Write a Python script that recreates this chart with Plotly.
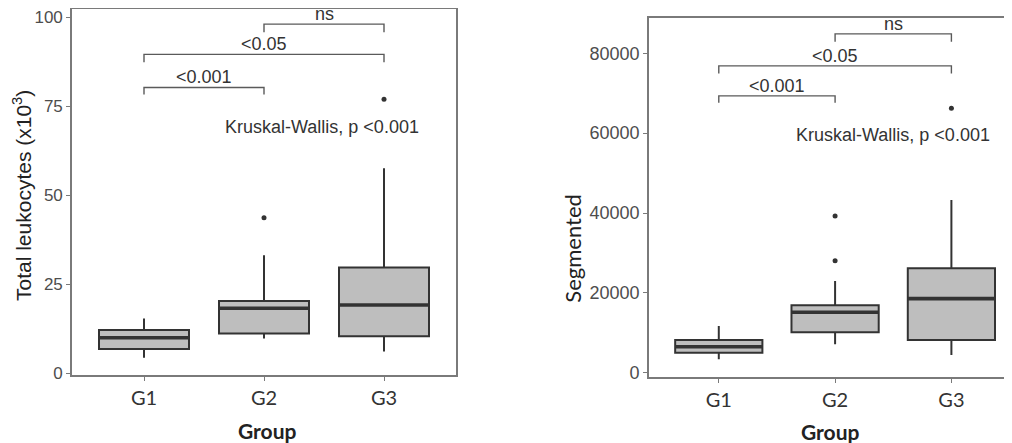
import plotly.graph_objects as go

groups = ["G1", "G2", "G3"]
group_pos = [1, 2, 3]

# Left panel: Total leukocytes (x10^3)
leu_lower = [4.4, 9.8, 6.1]
leu_q1 = [6.8, 11.2, 10.4]
leu_median = [10.0, 18.3, 19.2]
leu_q3 = [12.2, 20.3, 29.7]
leu_upper = [15.4, 33.2, 57.6]
leu_out_x = [2, 3]
leu_out_y = [43.7, 77.0]
leu_brackets = [  # (from, to, level, drop, label)
    (1, 2, 80.3, 2.0, "<0.001"),
    (1, 3, 89.6, 2.2, "<0.05"),
    (2, 3, 98.1, 2.3, "ns"),
]
leu_kw = (2.48, 69.3)

# Right panel: Segmented
seg_lower = [3350, 7100, 4440]
seg_q1 = [5010, 10120, 8200]
seg_median = [6520, 15140, 18550]
seg_q3 = [8200, 16890, 26160]
seg_upper = [11700, 22980, 43280]
seg_out_x = [2, 2, 3]
seg_out_y = [28070, 39270, 66260]
seg_brackets = [
    (1, 2, 69340, 1700, "<0.001"),
    (1, 3, 76860, 1900, "<0.05"),
    (2, 3, 84880, 2000, "ns"),
]
seg_kw = (2.50, 59570)

kw_text = "Kruskal-Wallis, p <0.001"
box_width = 0.75

LINE = "#333333"
FILL = "#bebebe"
FRAME = "#7a7a7a"

# The page body has an 8px margin, so the figure is sized to the visible area
W, H = 1004, 435

fig = go.Figure()


def add_panel(xa, ya, lower, q1, med, q3, upper, ox, oy, brackets, kw):
    xr = "x" if xa == 1 else f"x{xa}"
    yr = "y" if ya == 1 else f"y{ya}"
    fig.add_trace(go.Box(
        x=group_pos, q1=q1, median=med, q3=q3,
        lowerfence=lower, upperfence=upper,
        width=box_width, whiskerwidth=0, boxpoints=False,
        fillcolor=FILL, line=dict(color=LINE, width=2),
        xaxis=xr, yaxis=yr, showlegend=False, hoverinfo="skip",
    ))
    # thicker median bars
    for gx, m in zip(group_pos, med):
        fig.add_trace(go.Scatter(
            x=[gx - box_width / 2, gx + box_width / 2], y=[m, m],
            mode="lines", line=dict(color=LINE, width=3.6),
            xaxis=xr, yaxis=yr, showlegend=False, hoverinfo="skip",
        ))
    fig.add_trace(go.Scatter(
        x=ox, y=oy, mode="markers",
        marker=dict(color=LINE, size=5),
        xaxis=xr, yaxis=yr, showlegend=False, hoverinfo="skip",
    ))
    for a, b, lvl, drop, lab in brackets:
        fig.add_trace(go.Scatter(
            x=[a, a, b, b], y=[lvl - drop, lvl, lvl, lvl - drop],
            mode="lines", line=dict(color="#5a5a5a", width=1.4),
            xaxis=xr, yaxis=yr, showlegend=False, hoverinfo="skip",
        ))
        fig.add_annotation(
            x=(a + b) / 2, y=lvl, xref=xr, yref=yr, text=lab,
            showarrow=False, yanchor="middle", yshift=10,
            font=dict(family="Liberation Sans, Arial", size=18, color="#333333"),
        )
    fig.add_annotation(
        x=kw[0], y=kw[1], xref=xr, yref=yr, text=kw_text,
        showarrow=False, xanchor="center", yanchor="middle",
        font=dict(family="Liberation Sans, Arial", size=18, color="#333333"),
    )


add_panel(1, 1, leu_lower, leu_q1, leu_median, leu_q3, leu_upper,
          leu_out_x, leu_out_y, leu_brackets, leu_kw)
add_panel(2, 2, seg_lower, seg_q1, seg_median, seg_q3, seg_upper,
          seg_out_x, seg_out_y, seg_brackets, seg_kw)

xcommon = dict(
    tickmode="array", tickvals=group_pos, ticktext=groups,
    showgrid=False, zeroline=False, showline=True, linecolor=FRAME, linewidth=1.6,
    ticks="outside", ticklen=4, tickcolor=FRAME, automargin=False,
    tickfont=dict(family="Lato", size=20, color="#333333"),
    ticklabelstandoff=0,
)
ycommon = dict(
    showgrid=False, zeroline=False, showline=True, linecolor=FRAME, linewidth=1.6,
    ticks="outside", ticklen=4, tickcolor=FRAME, automargin=False,
)

fig.update_layout(
    width=W, height=H,
    margin=dict(l=0, r=0, t=0, b=0, autoexpand=False),
    paper_bgcolor="white", plot_bgcolor="white",
    xaxis=dict(domain=[64 / W, 448 / W], range=[0.4, 3.6], mirror=True,
               anchor="y", **xcommon),
    yaxis=dict(domain=[1 - 367 / H, 1 - 1 / H], range=[-0.47, 102.34],
               anchor="x", mirror=True, tickvals=[0, 25, 50, 75, 100],
               tickfont=dict(family="Liberation Sans, Arial", size=17, color="#4d4d4d"),
               **ycommon),
    xaxis2=dict(domain=[641 / W, 1.0], range=[0.4, 3.521], mirror=True,
                anchor="y2", **xcommon),
    yaxis2=dict(domain=[1 - 368.7 / H, 1 - 10.3 / H], range=[-1000, 88770],
                anchor="x2", mirror=False, tickvals=[0, 20000, 40000, 60000, 80000],
                tickformat="d",
                tickfont=dict(family="Liberation Sans, Arial", size=18, color="#4d4d4d"),
                **ycommon),
)

title_font = dict(family="Liberation Sans, Arial", size=21, color="#222222")
fig.add_annotation(x=14 / W, y=1 - 188 / H, xref="paper", yref="paper",
                   text="Total leukocytes (x10<sup>3</sup>)", textangle=-90,
                   showarrow=False, xanchor="center", yanchor="middle", font=title_font)
fig.add_annotation(x=563.7 / W, y=1 - 240 / H, xref="paper", yref="paper",
                   text="Segmented", textangle=-90,
                   showarrow=False, xanchor="center", yanchor="middle",
                   font=dict(family="Lato", size=22, color="#222222"))
for cx, cy in [(259 / W, 1 - 422 / H), (822 / W, 1 - 423.7 / H)]:
    fig.add_annotation(x=cx, y=cy, xref="paper", yref="paper", text="<b>Group</b>",
                       showarrow=False, xanchor="center", yanchor="middle",
                       font=dict(family="Lato", size=21, color="#222222"))

fig.write_html("out.html")
